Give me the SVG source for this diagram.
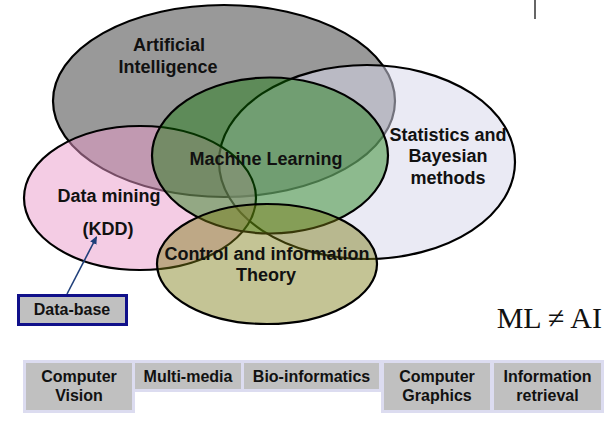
<svg xmlns="http://www.w3.org/2000/svg" width="612" height="421" viewBox="0 0 612 421">
  <defs>
    <marker id="ah" markerWidth="8" markerHeight="8" refX="7" refY="4" orient="auto" markerUnits="userSpaceOnUse">
      <path d="M0,0.5 L8,4 L0,7.5 Z" fill="#1f3f7a"/>
    </marker>
    <style>
      .ell { stroke: #000; stroke-width: 2.2; }
      .lbl { font-family: "Liberation Sans", Arial, sans-serif; font-weight: bold; font-size: 18px; fill: #111; text-anchor: middle; }
      .cell-t { font-family: "Liberation Sans", Arial, sans-serif; font-weight: bold; font-size: 16px; fill: #111; text-anchor: middle; }
      .cell { fill: #c0c0c0; stroke: #dcdcf0; stroke-width: 3; }
    </style>
  </defs>
  <rect width="612" height="421" fill="#fff"/>
  <line x1="535" y1="0" x2="535" y2="19" stroke="#333" stroke-width="1.5"/>

  <g id="ai">
    <ellipse class="ell" cx="224" cy="101" rx="171" ry="96" fill="#999999"/>
    <text class="lbl" x="169" y="51">Artificial</text>
    <text class="lbl" x="168" y="73">Intelligence</text>
  </g>
  <g id="stats">
    <ellipse class="ell" cx="367" cy="162" rx="148" ry="97" fill="rgb(215,215,234)" fill-opacity="0.53"/>
    <text class="lbl" x="448" y="141">Statistics and</text>
    <text class="lbl" x="448" y="162">Bayesian</text>
    <text class="lbl" x="448" y="184">methods</text>
  </g>
  <g id="dm">
    <ellipse class="ell" cx="140" cy="198" rx="116" ry="72" fill="rgb(233,153,201)" fill-opacity="0.5"/>
    <text class="lbl" x="109" y="202">Data mining</text>
    <text class="lbl" x="108" y="235">(KDD)</text>
  </g>
  <g id="ml">
    <ellipse class="ell" cx="270" cy="155.5" rx="118" ry="78" fill="rgb(12,120,0)" fill-opacity="0.42"/>
    <text class="lbl" x="266" y="165">Machine Learning</text>
  </g>
  <g id="control">
    <ellipse class="ell" cx="267" cy="264" rx="110" ry="60" fill="rgb(124,124,20)" fill-opacity="0.45"/>
    <text class="lbl" x="267" y="260">Control and information</text>
    <text class="lbl" x="266" y="281">Theory</text>
  </g>

  <g id="database">
    <rect x="18.5" y="295.5" width="108" height="29" fill="#c0c0c0" stroke="#10108a" stroke-width="3"/>
    <text class="cell-t" x="72" y="315">Data-base</text>
  </g>

  <g id="connectors">
    <line x1="67" y1="294" x2="96.5" y2="237" stroke="#1f3f7a" stroke-width="1.6" marker-end="url(#ah)"/>
  </g>

  <g id="ml-ne-ai">
    <text x="602" y="328" text-anchor="end" font-family="Liberation Serif, 'Times New Roman', serif" font-size="30" fill="#111">ML ≠ AI</text>
  </g>

  <g id="cv">
    <rect class="cell" x="24.5" y="361.5" width="109" height="50"/>
    <text class="cell-t" x="79" y="382">Computer</text>
    <text class="cell-t" x="79" y="401">Vision</text>
  </g>
  <g id="mm">
    <rect class="cell" x="133.5" y="361.5" width="109" height="29"/>
    <text class="cell-t" x="188" y="382">Multi-media</text>
  </g>
  <g id="bio">
    <rect class="cell" x="242.5" y="361.5" width="138" height="29"/>
    <text class="cell-t" x="311.5" y="382">Bio-informatics</text>
  </g>
  <g id="cg">
    <rect class="cell" x="382.5" y="361.5" width="109" height="50"/>
    <text class="cell-t" x="437" y="382">Computer</text>
    <text class="cell-t" x="437" y="401">Graphics</text>
  </g>
  <g id="ir">
    <rect class="cell" x="492.5" y="361.5" width="110" height="50"/>
    <text class="cell-t" x="547.5" y="382">Information</text>
    <text class="cell-t" x="547.5" y="401">retrieval</text>
  </g>
</svg>
